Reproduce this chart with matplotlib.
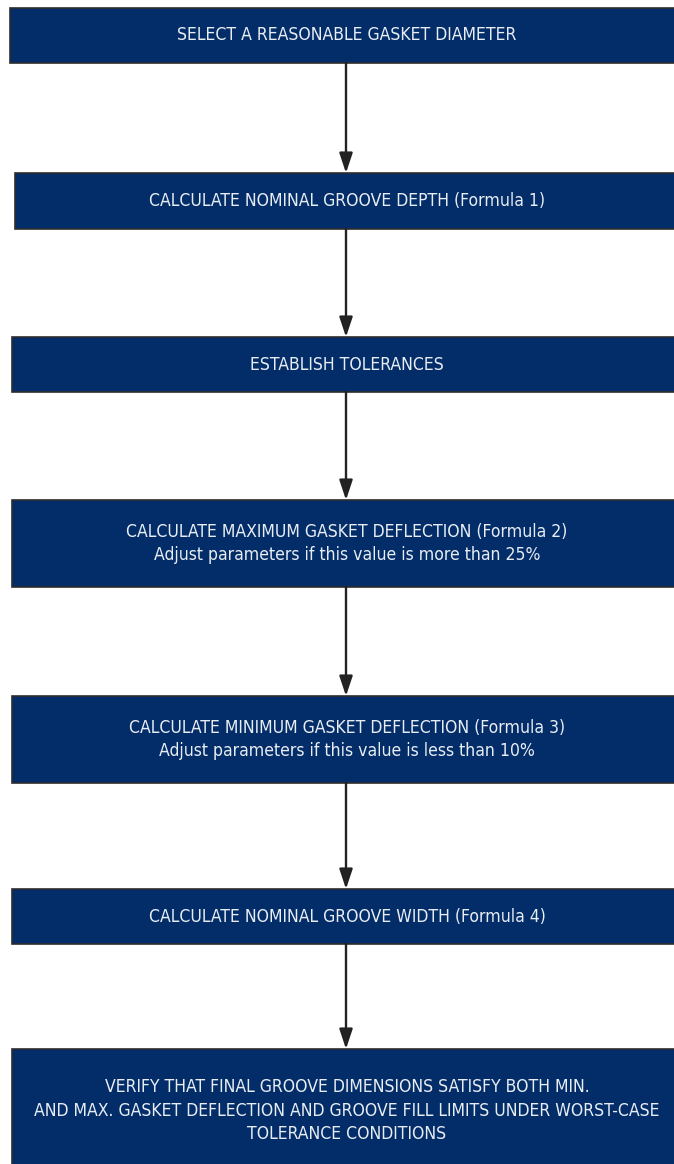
import matplotlib
matplotlib.use("Agg")
import matplotlib.pyplot as plt
from matplotlib.patches import Rectangle, FancyArrowPatch

# Flowchart steps (top to bottom)
steps = [
    "SELECT A REASONABLE GASKET DIAMETER",
    "CALCULATE NOMINAL GROOVE DEPTH (Formula 1)",
    "ESTABLISH TOLERANCES",
    "CALCULATE MAXIMUM GASKET DEFLECTION (Formula 2)\nAdjust parameters if this value is more than 25%",
    "CALCULATE MINIMUM GASKET DEFLECTION (Formula 3)\nAdjust parameters if this value is less than 10%",
    "CALCULATE NOMINAL GROOVE WIDTH (Formula 4)",
    "VERIFY THAT FINAL GROOVE DIMENSIONS SATISFY BOTH MIN.\n"
    "AND MAX. GASKET DEFLECTION AND GROOVE FILL LIMITS UNDER WORST-CASE\n"
    "TOLERANCE CONDITIONS",
]

# Layout in pixels (y downward)
box_left = [10, 15, 12, 12, 12, 12, 12]
box_top = [8, 173, 337, 500, 696, 889, 1049]
box_bottom = [63, 229, 392, 587, 783, 944, 1172]
box_right = 690
arrow_x = 346

NAVY = "#022d69"
EDGE = "#2e2e2e"
TEXT = "#e9edf3"

plt.rcParams["font.family"] = ["DejaVu Sans"]

fig = plt.figure(figsize=(6.74, 11.64), dpi=100)
ax = fig.add_axes([0, 0, 1, 1])
ax.set_xlim(0, 674)
ax.set_ylim(1164, 0)
ax.axis("off")

for i, label in enumerate(steps):
    x0, y0, y1 = box_left[i], box_top[i], box_bottom[i]
    ax.add_patch(Rectangle((x0, y0), box_right - x0, y1 - y0,
                           facecolor=NAVY, edgecolor=EDGE, linewidth=1.2))
    yc = (y0 + y1) / 2
    ax.text(347, yc, label, color=TEXT, fontsize=12.6, fontstretch="condensed",
            ha="center", va="center", linespacing=1.38)

    # Connector arrow to the next box
    if i < len(steps) - 1:
        ax.add_patch(FancyArrowPatch(
            (arrow_x, y1), (arrow_x, box_top[i + 1]),
            arrowstyle="-|>,head_length=1.5,head_width=0.5",
            mutation_scale=8, color="#222222", linewidth=1.7,
            shrinkA=0, shrinkB=0))

plt.savefig("out.png", dpi=100)
plt.close()
